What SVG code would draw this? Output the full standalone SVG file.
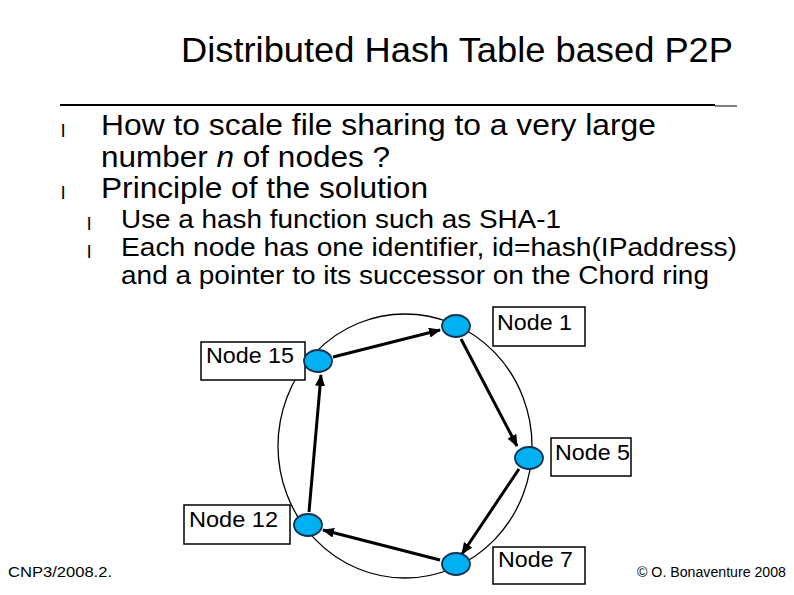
<svg xmlns="http://www.w3.org/2000/svg" width="794" height="595" viewBox="0 0 794 595">
<style>
text{font-family:"Liberation Sans",Arial,sans-serif;fill:#000}
.t{font-size:35px}
.b1{font-size:30px}
.b2{font-size:26px}
.bul{font-size:19px}
.lbl{font-size:22px}
.ft{font-size:14px}
.box{fill:#fff;stroke:#000;stroke-width:1.5}
.nd{fill:#00B0F0;stroke:#10304f;stroke-width:1.8}
.ring{fill:none;stroke:#000;stroke-width:1.3}
.arr{stroke:#000;stroke-width:3;fill:none;marker-end:url(#ah)}
</style>
<defs>
<marker id="ah" markerUnits="userSpaceOnUse" markerWidth="12" markerHeight="10" refX="11" refY="5" orient="auto">
<path d="M0,0 L12,5 L0,10 z" fill="#000"/>
</marker>
</defs>
<rect width="794" height="595" fill="#fff"/>
<text class="t" x="181" y="62" textLength="552" lengthAdjust="spacingAndGlyphs">Distributed Hash Table based P2P</text>
<line x1="60" y1="105" x2="715" y2="105" stroke="#000" stroke-width="2"/>
<line x1="715" y1="106" x2="737" y2="106" stroke="#000" stroke-width="1"/>
<text class="bul" x="61" y="137">l</text>
<text class="b1" x="101" y="135" textLength="555" lengthAdjust="spacingAndGlyphs">How to scale file sharing to a very large</text>
<text class="b1" x="101" y="167" textLength="289" lengthAdjust="spacingAndGlyphs">number <tspan font-style="italic">n</tspan> of nodes ?</text>
<text class="bul" x="61" y="199">l</text>
<text class="b1" x="101" y="198" textLength="327" lengthAdjust="spacingAndGlyphs">Principle of the solution</text>
<text class="bul" x="87" y="230">l</text>
<text class="b2" x="121" y="228" textLength="440" lengthAdjust="spacingAndGlyphs">Use a hash function such as SHA-1</text>
<text class="bul" x="87" y="258">l</text>
<text class="b2" x="121" y="256" textLength="616" lengthAdjust="spacingAndGlyphs">Each node has one identifier, id=hash(IPaddress)</text>
<text class="b2" x="121" y="284" textLength="588" lengthAdjust="spacingAndGlyphs">and a pointer to its successor on the Chord ring</text>
<ellipse class="ring" cx="405" cy="446" rx="127" ry="132"/>
<g id="connectors">
<line class="arr" x1="333" y1="357" x2="440" y2="330"/>
<line class="arr" x1="461" y1="339" x2="517" y2="446"/>
<line class="arr" x1="519" y1="469" x2="462" y2="554"/>
<line class="arr" x1="440" y1="560" x2="323" y2="530"/>
<line class="arr" x1="309" y1="512" x2="321" y2="375"/>
</g>
<g id="node1">
<rect class="box" x="493" y="307" width="92" height="39"/>
<text class="lbl" x="497" y="330" textLength="75" lengthAdjust="spacingAndGlyphs">Node 1</text>
<ellipse class="nd" cx="456" cy="326" rx="14" ry="11"/>
</g>
<g id="node15">
<rect class="box" x="201" y="342" width="104" height="38"/>
<text class="lbl" x="206" y="363" textLength="88" lengthAdjust="spacingAndGlyphs">Node 15</text>
<ellipse class="nd" cx="318" cy="361" rx="14" ry="11"/>
</g>
<g id="node5">
<rect class="box" x="551" y="438" width="80" height="38"/>
<text class="lbl" x="555" y="460" textLength="75" lengthAdjust="spacingAndGlyphs">Node 5</text>
<ellipse class="nd" cx="529" cy="458" rx="14" ry="11"/>
</g>
<g id="node12">
<rect class="box" x="184" y="505" width="106" height="39"/>
<text class="lbl" x="189" y="527" textLength="89" lengthAdjust="spacingAndGlyphs">Node 12</text>
<ellipse class="nd" cx="308" cy="525" rx="14" ry="11"/>
</g>
<g id="node7">
<rect class="box" x="493" y="547" width="92" height="37"/>
<text class="lbl" x="498" y="567" textLength="75" lengthAdjust="spacingAndGlyphs">Node 7</text>
<ellipse class="nd" cx="456" cy="564" rx="14" ry="11"/>
</g>
<text class="ft" x="8" y="577" textLength="104" lengthAdjust="spacingAndGlyphs">CNP3/2008.2.</text>
<text class="ft" x="637" y="577" textLength="149" lengthAdjust="spacingAndGlyphs">© O. Bonaventure 2008</text>
</svg>
